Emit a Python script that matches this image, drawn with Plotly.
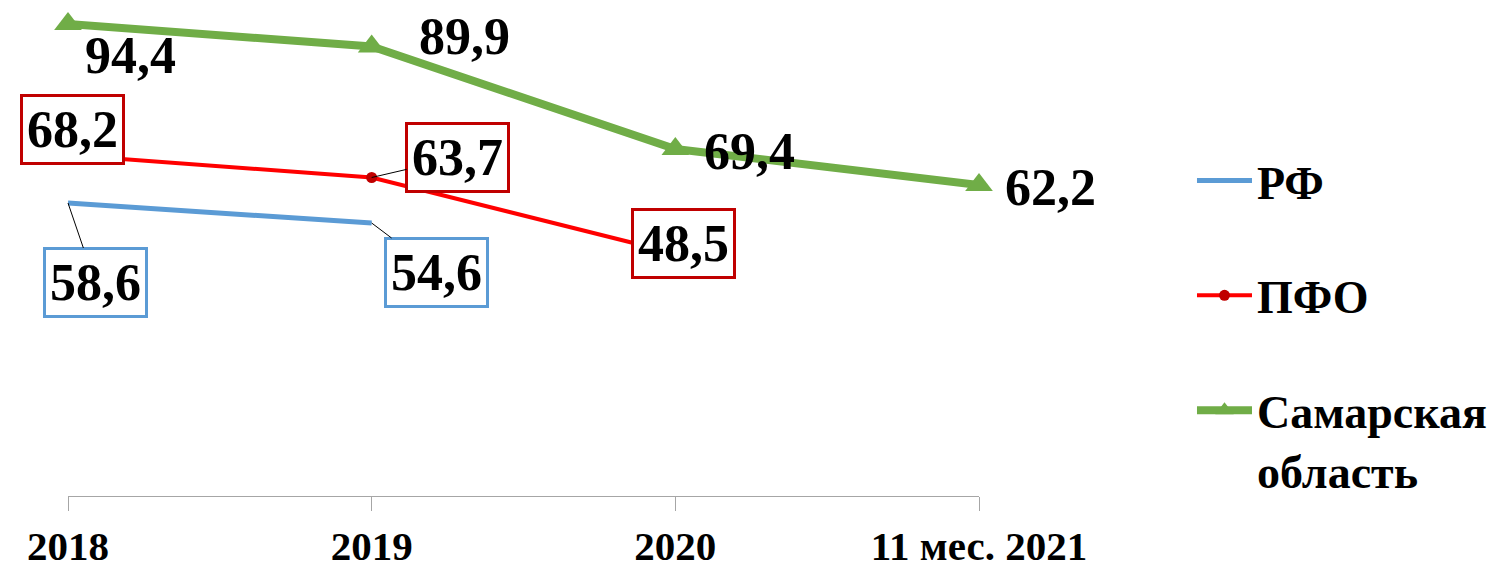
import plotly.graph_objects as go

categories = ["2018", "2019", "2020", "11 мес. 2021"]
rf = [58.6, 54.6, None, None]
pfo = [68.2, 63.7, 48.5, None]
samara = [94.4, 89.9, 69.4, 62.2]
series_names = ["РФ", "ПФО", "Самарская<br>область"]

BLUE = "#5B9BD5"
RED = "#FF0000"
DARKRED = "#C00000"
GREEN = "#70AD47"
FONT = "Liberation Serif"

fig = go.Figure()
fig.add_trace(go.Scatter(x=categories, y=rf, name="<b>%s</b>" % series_names[0], mode="lines",
                         line=dict(color=BLUE, width=5), legendgroup="a", cliponaxis=False))
fig.add_trace(go.Scatter(x=categories, y=pfo, name="<b>%s</b>" % series_names[1], mode="lines+markers",
                         line=dict(color=RED, width=4),
                         marker=dict(symbol="circle", size=11, color=DARKRED),
                         legendgroup="b", cliponaxis=False))
fig.add_trace(go.Scatter(x=categories, y=samara, name="<b>%s</b>" % series_names[2], mode="lines+markers",
                         line=dict(color=GREEN, width=8),
                         marker=dict(symbol="triangle-up", size=24, color=GREEN),
                         legendgroup="c", cliponaxis=False))

def fmt(v):
    return f"{v:.1f}".replace(".", ",")

lab_font = dict(family=FONT, size=52, color="black")
ann = []
# Samara labels, no border (offsets in pixels: right, up)
green_off = [(62, -31), (93, 10), (74, -2), (71, -2)]
for i, v in enumerate(samara):
    dx, dy = green_off[i]
    ann.append(dict(x=i, y=v, xref="x", yref="y", text="<b>%s</b>" % fmt(v), showarrow=False,
                    xshift=dx, yshift=dy, font=lab_font))
# PFO labels, boxed
pfo_cfg = [(4, 26, False), (86, -20, True), (8, 10, False)]
for i, v in enumerate(pfo):
    if v is None:
        continue
    dx, dy, lead = pfo_cfg[i]
    d = dict(x=i, y=v, xref="x", yref="y", text="<b>%s</b>" % fmt(v), font=lab_font,
             bordercolor=DARKRED, borderwidth=3, borderpad=4, bgcolor="white")
    if lead:
        d.update(showarrow=True, ax=dx, ay=dy, arrowhead=0, arrowwidth=1,
                 arrowcolor="black", standoff=0)
    else:
        d.update(showarrow=False, xshift=dx, yshift=dy)
    ann.append(d)
# RF labels, boxed with leader lines (offsets in pixels: right, down)
rf_cfg = [(27, 79), (65, 49)]
for i, v in enumerate(rf):
    if v is None:
        continue
    dx, dy = rf_cfg[i]
    ann.append(dict(x=i, y=v, xref="x", yref="y", text="<b>%s</b>" % fmt(v), font=lab_font,
                    bordercolor=BLUE, borderwidth=3, borderpad=4, bgcolor="white",
                    showarrow=True, ax=dx, ay=dy, arrowhead=0, arrowwidth=1,
                    arrowcolor="black", standoff=0))

fig.update_layout(
    width=1491, height=555,
    margin=dict(l=60, r=520, t=0, b=67, autoexpand=False),
    paper_bgcolor="white", plot_bgcolor="white",
    font=dict(family=FONT, color="black"),
    annotations=ann,
    legend=dict(x=1.2338, y=0.721, xanchor="left", yanchor="top",
                font=dict(family=FONT, size=46, color="black"),
                tracegroupgap=52, valign="top", itemwidth=55,
                bgcolor="rgba(0,0,0,0)"),
    xaxis=dict(type="category", range=[0, 3], showgrid=False, zeroline=False,
               showline=True, linecolor="#A6A6A6", linewidth=1,
               ticks="outside", ticklen=14, tickcolor="#A6A6A6",
               tickfont=dict(family=FONT, size=41, color="black"),
               tickvals=categories, ticktext=["<b>%s</b>" % c for c in categories]),
    yaxis=dict(visible=False, range=[0, 97.6]),
)
fig.write_html("out.html")
